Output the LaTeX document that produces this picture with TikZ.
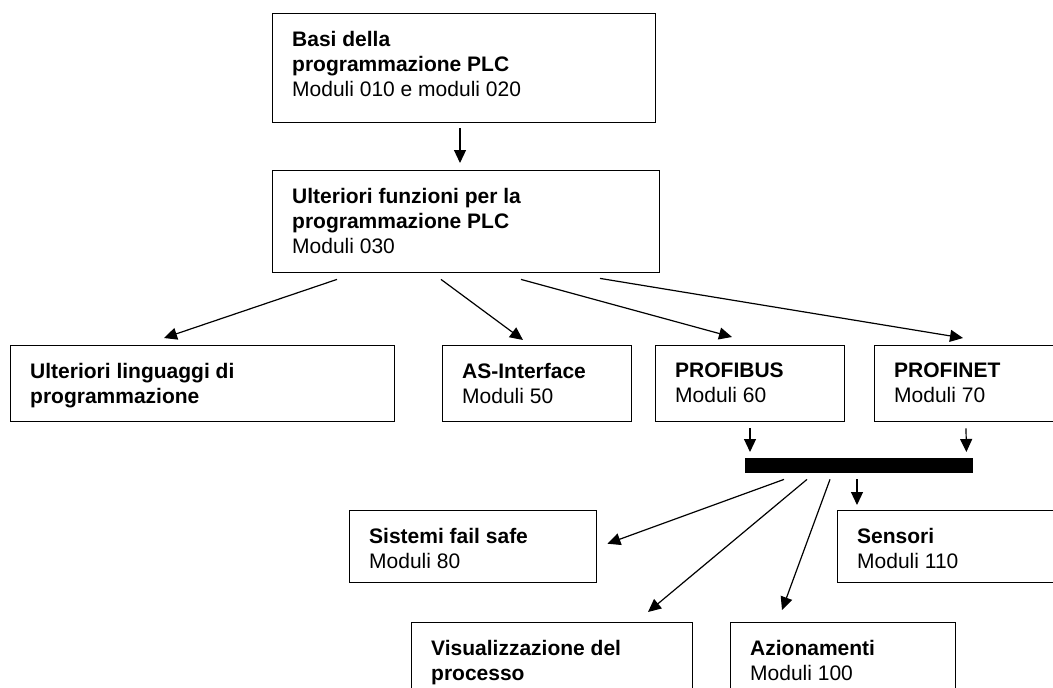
\documentclass[tikz,border=0pt]{standalone}
\usepackage{fontspec}
\setmainfont{Liberation Sans}
\usetikzlibrary{arrows.meta}
\begin{document}
\begin{tikzpicture}[x=1pt,y=-1pt,
  box/.style={draw, line width=1.4pt, inner sep=0pt, anchor=north west},
  txt/.style={anchor=north west, inner sep=0pt, align=left, font=\fontsize{21}{25}\selectfont},
  arr/.style={line width=1.2pt, -{Triangle[length=13pt,width=12pt]}}
]
\useasboundingbox (0,0) rectangle (1053,688);
% boxes
\node[box, minimum width=383pt, minimum height=109pt] (b1) at (272,13) {};
\node[box, minimum width=387pt, minimum height=102pt] (b2) at (272,170) {};
\node[box, minimum width=384pt, minimum height=76pt] (b3) at (10,345) {};
\node[box, minimum width=189pt, minimum height=76pt] (b4) at (442,345) {};
\node[box, minimum width=189pt, minimum height=76pt] (b5) at (655,345) {};
\node[box, minimum width=189pt, minimum height=76pt] (b6) at (874,345) {};
\node[fill=black, draw=none, inner sep=0pt, anchor=north west, minimum width=228pt, minimum height=15pt] (bar) at (745,458) {};
\node[box, minimum width=247pt, minimum height=72pt] (b7) at (349,510) {};
\node[box, minimum width=233pt, minimum height=72pt] (b8) at (837,510) {};
\node[box, minimum width=281pt, minimum height=80pt] (b9) at (411,622) {};
\node[box, minimum width=225pt, minimum height=80pt] (b10) at (730,622) {};
% texts
\node[txt] (t1) at ([shift={(20,18)}]b1.north west) {\textbf{Basi della}\\\textbf{programmazione PLC}\\Moduli 010 e moduli 020};
\node[txt] (t2) at ([shift={(20,18)}]b2.north west) {\textbf{Ulteriori funzioni per la}\\\textbf{programmazione PLC}\\Moduli 030};
\node[txt] (t3) at ([shift={(20,18)}]b3.north west) {\textbf{Ulteriori linguaggi di}\\\textbf{programmazione}};
\node[txt] (t4) at ([shift={(20,18)}]b4.north west) {\textbf{AS-Interface}\\Moduli 50};
\node[txt] (t5) at ([shift={(20,18)}]b5.north west) {\textbf{PROFIBUS}\\Moduli 60};
\node[txt] (t6) at ([shift={(20,18)}]b6.north west) {\textbf{PROFINET}\\Moduli 70};
\node[txt] (t7) at ([shift={(20,18)}]b7.north west) {\textbf{Sistemi fail safe}\\Moduli 80};
\node[txt] (t8) at ([shift={(20,18)}]b8.north west) {\textbf{Sensori}\\Moduli 110};
\node[txt] (t9) at ([shift={(20,18)}]b9.north west) {\textbf{Visualizzazione del}\\\textbf{processo}};
\node[txt] (t10) at ([shift={(20,18)}]b10.north west) {\textbf{Azionamenti}\\Moduli 100};
% arrows
\draw[arr] ([shift={(188,5)}]b1.south west) -- ([shift={(188,-7)}]b2.north west);
\draw[arr] ([shift={(65,6)}]b2.south west) -- ([shift={(154,-7)}]b3.north west);
\draw[arr] ([shift={(169,6)}]b2.south west) -- ([shift={(81,-5)}]b4.north west);
\draw[arr] ([shift={(249,6)}]b2.south west) -- ([shift={(77,-8)}]b5.north west);
\draw[arr] ([shift={(328,5)}]b2.south west) -- ([shift={(89,-7)}]b6.north west);
\draw[arr] ([shift={(95,6)}]b5.south west) -- ([shift={(5,-6)}]bar.north west);
\draw[arr] ([shift={(92,6)}]b6.south west) -- ([shift={(-7,-6)}]bar.north east);
\draw[arr] ([shift={(39,6)}]bar.south west) -- ([shift={(10,-3)}]b7.east);
\draw[arr] ([shift={(62,6)}]bar.south west) -- ([shift={(237,-10)}]b9.north west);
\draw[arr] ([shift={(85,6)}]bar.south west) -- ([shift={(52,-12)}]b10.north west);
\draw[arr] ([shift={(112,6)}]bar.south west) -- ([shift={(20,-5)}]b8.north west);
\end{tikzpicture}
\end{document}
